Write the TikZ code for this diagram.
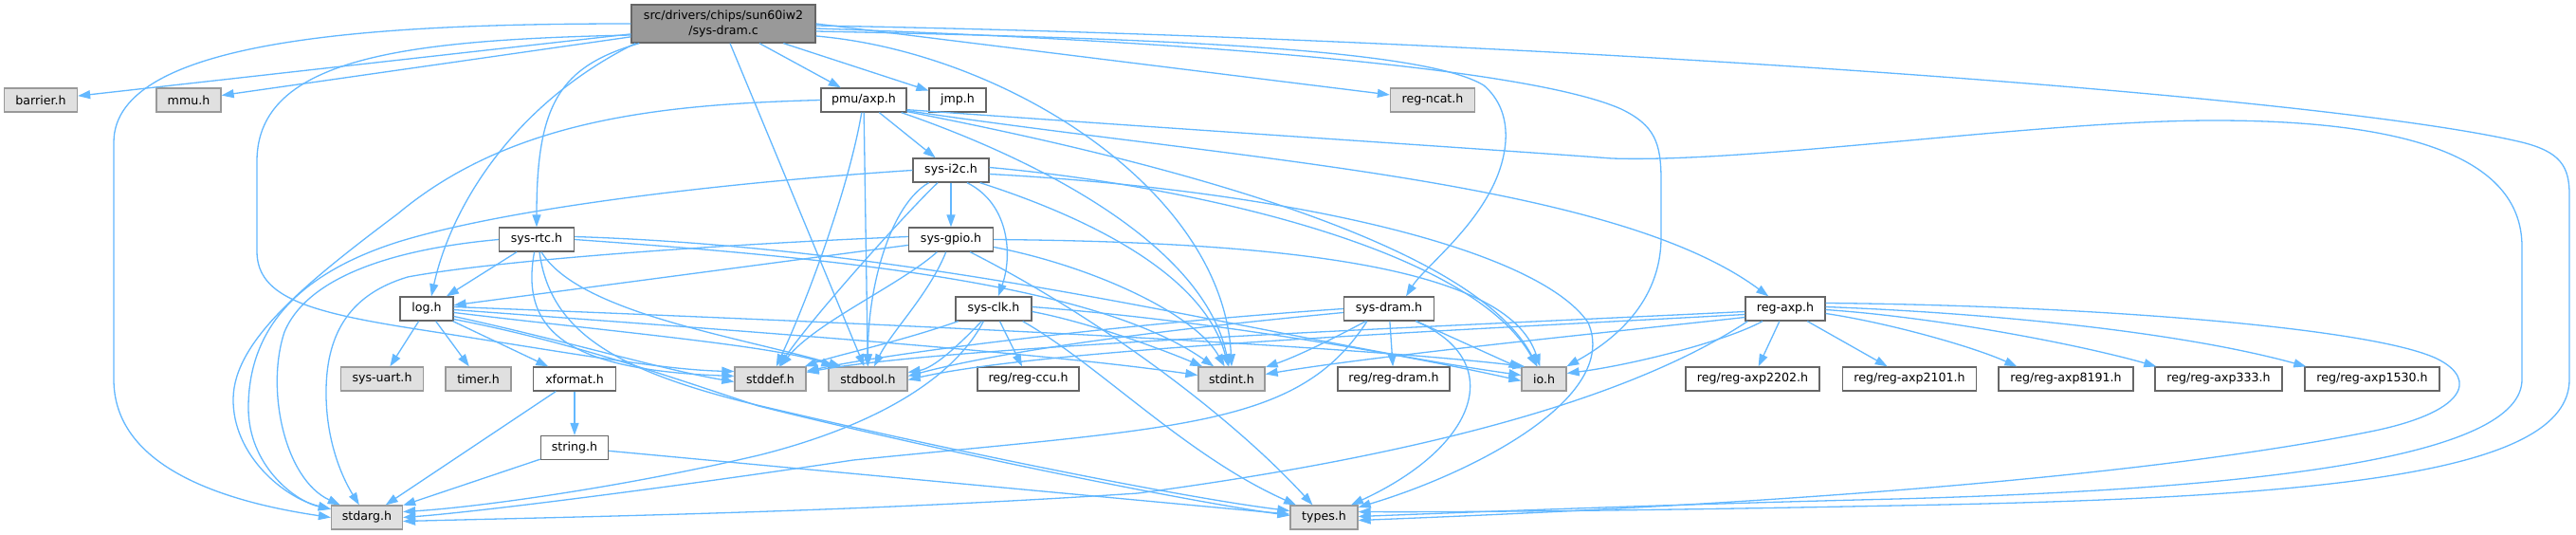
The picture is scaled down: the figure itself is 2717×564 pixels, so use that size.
\documentclass[tikz,border=0pt]{standalone}
\usepackage{fontspec}
\setmainfont{DejaVu Sans}
\usetikzlibrary{arrows.meta,calc}
\definecolor{edgeC}{HTML}{63B8FF}
\definecolor{mainF}{HTML}{999999}
\definecolor{darkB}{HTML}{666666}
\definecolor{grayF}{HTML}{E0E0E0}
\definecolor{grayB}{HTML}{999999}
\tikzset{
  nbox/.style={rectangle, draw, line width=1.3pt, minimum height=25pt, inner sep=0pt, font=\fontsize{12.6}{16}\selectfont, text=black},
  wnode/.style={nbox, fill=white, draw=darkB},
  gnode/.style={nbox, fill=grayF, draw=grayB},
  mnode/.style={nbox, fill=mainF, draw=darkB, align=center, minimum height=40pt},
  lnk/.style={draw=edgeC, line width=1.3pt, -{Triangle[length=13pt,width=9pt]}},
}
\begin{document}
\begin{tikzpicture}[x=1pt,y=-1pt]
\useasboundingbox (0,0) rectangle (2717,564);
\fill[white] (0,0) rectangle (2717,564);
% nodes
\node[mnode, minimum width=194pt] (main) at (763,25) {src/drivers/chips/sun60iw2\\/sys-dram.c};
\node[gnode, minimum width=77pt] (barrier) at (43,105.5) {barrier.h};
\node[gnode, minimum width=68pt] (mmu) at (199,105.5) {mmu.h};
\node[wnode, minimum width=90pt] (pmu) at (911,105.5) {pmu/axp.h};
\node[wnode, minimum width=60pt] (jmp) at (1010,105.5) {jmp.h};
\node[gnode, minimum width=89pt] (ncat) at (1511,105.5) {reg-ncat.h};
\node[wnode, minimum width=80pt] (i2c) at (1003,179.5) {sys-i2c.h};
\node[wnode, minimum width=79pt] (rtc) at (566,252.5) {sys-rtc.h};
\node[wnode, minimum width=89pt] (gpio) at (1003,252.5) {sys-gpio.h};
\node[wnode, minimum width=56pt] (logh) at (450,325.5) {log.h};
\node[wnode, minimum width=80pt] (clk) at (1048,325.5) {sys-clk.h};
\node[wnode, minimum width=95pt] (sdram) at (1465,325.5) {sys-dram.h};
\node[wnode, minimum width=84pt] (regaxp) at (1883,325.5) {reg-axp.h};
\node[gnode, minimum width=87pt] (uart) at (403,399.5) {sys-uart.h};
\node[gnode, minimum width=69pt] (timer) at (504.5,399.5) {timer.h};
\node[wnode, minimum width=87pt] (xformat) at (606,399.5) {xformat.h};
\node[gnode, minimum width=75pt] (stddef) at (812.5,399.5) {stddef.h};
\node[gnode, minimum width=83pt] (stdbool) at (915.5,399.5) {stdbool.h};
\node[wnode, minimum width=107pt] (ccu) at (1084.5,399.5) {reg/reg-ccu.h};
\node[gnode, minimum width=70pt] (stdint) at (1299,399.5) {stdint.h};
\node[wnode, minimum width=118pt] (regdram) at (1470,399.5) {reg/reg-dram.h};
\node[gnode, minimum width=47pt] (io) at (1628.5,399.5) {io.h};
\node[wnode, minimum width=141pt] (a2202) at (1848.5,399.5) {reg/reg-axp2202.h};
\node[wnode, minimum width=141pt] (a2101) at (2014,399.5) {reg/reg-axp2101.h};
\node[wnode, minimum width=142pt] (a8191) at (2179,399.5) {reg/reg-axp8191.h};
\node[wnode, minimum width=134pt] (a333) at (2340,399.5) {reg/reg-axp333.h};
\node[wnode, minimum width=142pt] (a1530) at (2502,399.5) {reg/reg-axp1530.h};
\node[wnode, minimum width=71pt] (string) at (606,472) {string.h};
\node[gnode, minimum width=75pt] (stdarg) at (387,545.5) {stdarg.h};
\node[gnode, minimum width=71pt] (types) at (1396.5,545.5) {types.h};
% ---- edges from main
\draw[lnk] (main) -- (barrier);
\draw[lnk] (main) -- (mmu);
\draw[lnk] (main.west) .. controls (400,25) and (120,40) .. (120,150) -- (120,400) .. controls (120,490) and (230,528) .. (stdarg.west);
\draw[lnk] ($(main.west)+(0,12)$) .. controls (430,42) and (271,60) .. (271,170) -- (271,265) .. controls (271,315) and (330,330) .. (446,348) .. controls (600,372) and (700,390) .. ($(stddef.west)+(0,-8)$);
\draw[lnk] ($(main.south west)+(5,0)$) .. controls (540,110) and (475,220) .. ($(logh.north)+(5,0)$);
\draw[lnk] ($(main.south west)+(9,0)$) .. controls (590,70) and (566,110) .. (rtc.north);
\draw[lnk] ($(main.south)+(7,0)$) -- ($(stdbool.north)+(-4,0)$);
\draw[lnk] (main) -- (pmu);
\draw[lnk] (main) -- (jmp);
\draw[lnk] (main.east) -- (ncat);
\draw[lnk] ($(main.east)+(0,8)$) .. controls (1200,40) and (1500,50) .. (1565,90) .. controls (1600,120) and (1590,170) .. (1570,205) .. controls (1545,250) and (1500,285) .. ($(sdram.north)+(18,0)$);
\draw[lnk] ($(main.east)+(0,5)$) .. controls (1300,45) and (1620,75) .. (1710,115) .. controls (1745,132) and (1752,150) .. (1752,190) -- (1752,250) .. controls (1752,320) and (1700,360) .. (io);
\draw[lnk] ($(main.east)+(0,2)$) .. controls (1600,40) and (2450,100) .. (2660,150) .. controls (2700,160) and (2710,175) .. (2710,205) -- (2710,400) .. controls (2710,500) and (2450,525) .. (2000,533) .. controls (1750,538) and (1550,540) .. ($(types.east)+(0,-6)$);
\draw[lnk] ($(main.east)+(0,13)$) .. controls (1060,55) and (1290,200) .. (stdint.north);
% ---- pmu/axp.h
\draw[lnk] (pmu) -- (i2c);
\draw[lnk] (pmu.west) .. controls (700,110) and (540,125) .. (420,225) .. controls (320,300) and (247,360) .. (246,420) .. controls (245,480) and (300,525) .. (stdarg);
\draw[lnk] (pmu) .. controls (895,200) and (850,320) .. (stddef);
\draw[lnk] (pmu) -- (stdbool);
\draw[lnk] ($(pmu.south east)+(-6,0)$) .. controls (1100,170) and (1270,260) .. (stdint);
\draw[lnk] ($(pmu.south east)+(0,-1)$) .. controls (1200,165) and (1550,250) .. (io);
\draw[lnk] ($(pmu.south east)+(0,-2)$) .. controls (1300,168) and (1700,190) .. (regaxp);
\draw[lnk] ($(pmu.south east)+(0,-3)$) .. controls (1300,140) and (1580,158) .. (1700,167) .. controls (1850,172) and (2150,127) .. (2335,127) .. controls (2550,127) and (2660,170) .. (2660,260) -- (2660,400) .. controls (2660,480) and (2400,515) .. (2000,526) .. controls (1750,532) and (1550,540) .. ($(types.east)+(0,-1)$);
% ---- sys-i2c.h
\draw[lnk] (i2c) -- (gpio);
\draw[lnk] ($(i2c.south)+(17,0)$) .. controls (1065,215) and (1068,270) .. (clk);
\draw[lnk] (i2c.west) .. controls (800,190) and (550,215) .. (420,255) .. controls (310,290) and (262,350) .. (262,430) .. controls (262,490) and (310,528) .. (stdarg);
\draw[lnk] (i2c) .. controls (960,220) and (860,330) .. (stddef);
\draw[lnk] (i2c) .. controls (940,215) and (915,300) .. (stdbool);
\draw[lnk] ($(i2c.south east)+(-10,0)$) .. controls (1150,230) and (1270,290) .. (stdint);
\draw[lnk] ($(i2c.east)+(0,-3)$) .. controls (1250,195) and (1550,260) .. (io);
\draw[lnk] ($(i2c.east)+(0,4)$) .. controls (1350,200) and (1620,260) .. (1675,340) .. controls (1710,420) and (1550,500) .. (types);
% ---- sys-gpio.h
\draw[lnk] (gpio) -- (logh);
\draw[lnk] ($(gpio.west)+(0,-3)$) .. controls (750,258) and (520,275) .. (430,292) .. controls (370,310) and (345,350) .. (344,410) .. controls (343,470) and (365,510) .. (stdarg);
\draw[lnk] (gpio) .. controls (950,300) and (860,340) .. (stddef);
\draw[lnk] (gpio) .. controls (980,310) and (940,350) .. (stdbool);
\draw[lnk] ($(gpio.east)+(0,8)$) .. controls (1150,280) and (1260,330) .. (stdint);
\draw[lnk] (gpio.east) .. controls (1350,255) and (1590,280) .. (io);
\draw[lnk] ($(gpio.south east)+(-25,0)$) .. controls (1160,335) and (1300,440) .. (types);
% ---- sys-rtc.h
\draw[lnk] (rtc) -- (logh);
\draw[lnk] (rtc.west) .. controls (420,262) and (325,290) .. (300,350) .. controls (280,410) and (300,505) .. (stdarg);
\draw[lnk] (rtc) .. controls (548,350) and (600,390) .. ($(stddef.west)+(0,-3)$);
\draw[lnk] ($(rtc.south)+(5,0)$) .. controls (610,330) and (780,355) .. ($(stdbool.north west)+(14,0)$);
\draw[lnk] ($(rtc.south)+(3,0)$) .. controls (580,350) and (650,390) .. (790,425) .. controls (1000,475) and (1250,525) .. ($(types.west)+(0,-7)$);
\draw[lnk] (rtc.east) .. controls (850,270) and (1150,295) .. (stdint);
\draw[lnk] ($(rtc.east)+(0,-3)$) .. controls (1000,262) and (1350,360) .. ($(io.west)+(0,-4)$);
% ---- log.h
\draw[lnk] (logh) -- (uart);
\draw[lnk] (logh) -- (timer);
\draw[lnk] (logh) -- (xformat);
\draw[lnk] ($(logh.east)+(0,8)$) .. controls (600,360) and (700,390) .. ($(stddef.west)+(0,3)$);
\draw[lnk] ($(logh.east)+(0,4)$) .. controls (650,350) and (820,365) .. ($(stdbool.north west)+(6,0)$);
\draw[lnk] ($(logh.east)+(0,1)$) .. controls (800,350) and (1100,372) .. ($(stdint.west)+(0,-4)$);
\draw[lnk] ($(logh.east)+(0,-2)$) .. controls (900,340) and (1400,362) .. ($(io.north west)+(4,0)$);
\draw[lnk] ($(logh.east)+(0,11)$) .. controls (600,360) and (700,395) .. (800,428) .. controls (1000,478) and (1250,528) .. ($(types.west)+(0,-2)$);
% ---- sys-clk.h
\draw[lnk] (clk) .. controls (950,360) and (880,375) .. (stddef);
\draw[lnk] (clk) .. controls (1010,365) and (985,388) .. ($(stdbool.east)+(0,-7)$);
\draw[lnk] (clk) -- (ccu);
\draw[lnk] ($(clk.east)+(0,3)$) .. controls (1150,340) and (1230,370) .. (stdint);
\draw[lnk] ($(clk.east)+(0,-2)$) .. controls (1300,340) and (1500,378) .. ($(io.west)+(0,2)$);
\draw[lnk] ($(clk.south east)+(-10,0)$) .. controls (1160,385) and (1250,480) .. (types);
\draw[lnk] ($(clk.south west)+(30,0)$) .. controls (1000,410) and (900,455) .. (800,480) .. controls (650,515) and (500,535) .. ($(stdarg.east)+(0,-6)$);
% ---- sys-dram.h
\draw[lnk] (sdram.west) .. controls (1200,340) and (950,370) .. (stddef);
\draw[lnk] ($(sdram.west)+(0,4)$) .. controls (1200,350) and (1050,372) .. ($(stdbool.east)+(0,-3)$);
\draw[lnk] (sdram) .. controls (1410,355) and (1370,375) .. (stdint);
\draw[lnk] (sdram) -- (regdram);
\draw[lnk] (sdram) -- (io);
\draw[lnk] ($(sdram.south east)+(-20,0)$) .. controls (1590,380) and (1560,470) .. (types);
\draw[lnk] ($(sdram.south west)+(25,0)$) .. controls (1370,450) and (1250,450) .. (900,485) .. controls (700,515) and (500,540) .. (stdarg.east);
% ---- reg-axp.h
\draw[lnk] ($(regaxp.west)+(0,3)$) .. controls (1500,345) and (1000,365) .. (stddef);
\draw[lnk] ($(regaxp.west)+(0,6)$) .. controls (1500,350) and (1100,368) .. ($(stdbool.east)+(0,1)$);
\draw[lnk] ($(regaxp.west)+(0,9)$) .. controls (1700,350) and (1450,375) .. ($(stdint.east)+(0,-5)$);
\draw[lnk] (regaxp) .. controls (1820,360) and (1720,385) .. ($(io.east)+(0,-6)$);
\draw[lnk] ($(regaxp.south west)+(3,0)$) .. controls (1720,420) and (1500,480) .. (1200,520) .. controls (900,540) and (600,545) .. ($(stdarg.east)+(0,4)$);
\draw[lnk] (regaxp) -- (a2202);
\draw[lnk] (regaxp) -- (a2101);
\draw[lnk] ($(regaxp.east)+(0,5)$) .. controls (1990,340) and (2080,365) .. ($(a8191.north west)+(20,0)$);
\draw[lnk] ($(regaxp.east)+(0,1)$) .. controls (2050,335) and (2200,365) .. ($(a333.north west)+(2,0)$);
\draw[lnk] ($(regaxp.east)+(0,-2)$) .. controls (2100,330) and (2300,350) .. ($(a1530.north west)+(2,0)$);
\draw[lnk] ($(regaxp.east)+(0,-6)$) .. controls (2200,322) and (2500,345) .. (2570,378) .. controls (2615,400) and (2600,435) .. (2500,455) .. controls (2200,515) and (1700,538) .. ($(types.east)+(0,3)$);
% ---- xformat.h, string.h
\draw[lnk] (xformat) -- (string);
\draw[lnk] (xformat) -- (stdarg);
\draw[lnk] (string) -- (stdarg);
\draw[lnk] (string) -- (types);
\end{tikzpicture}
\end{document}
